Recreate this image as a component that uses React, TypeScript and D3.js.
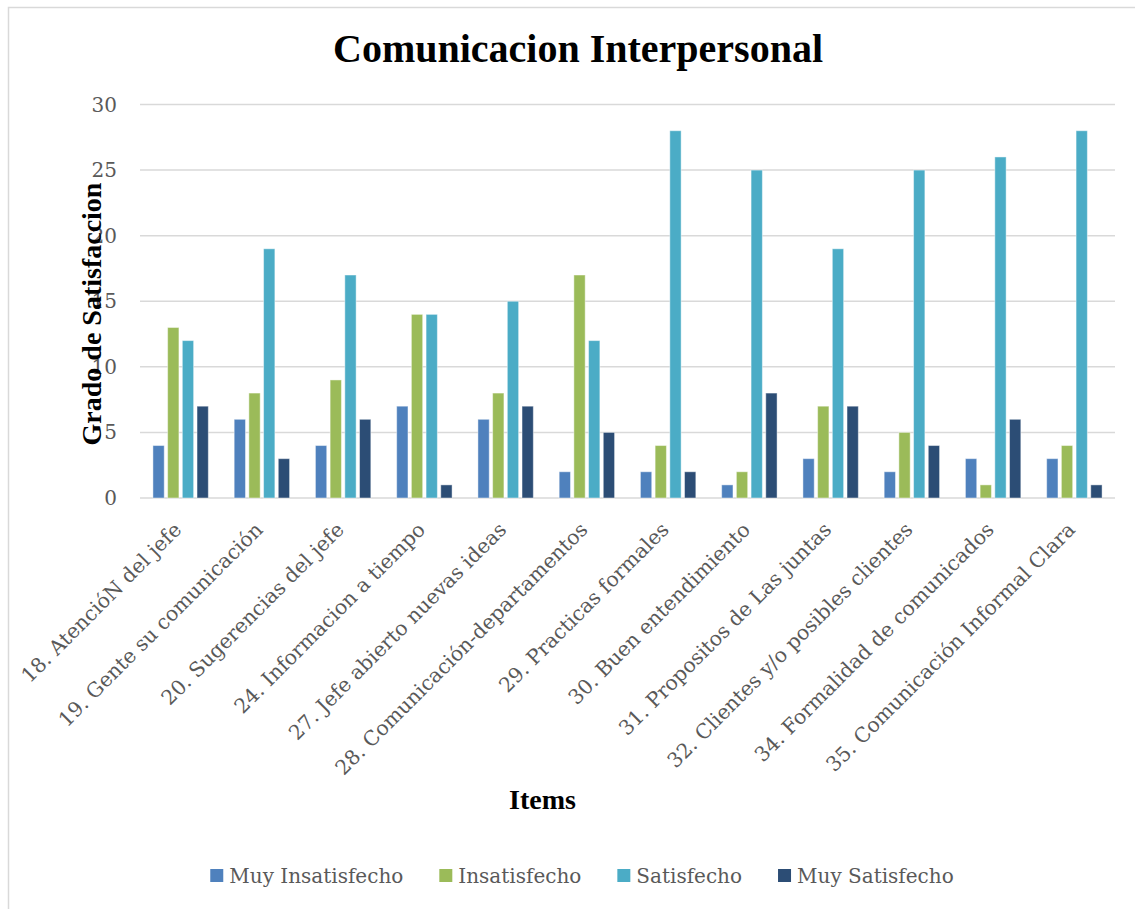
import React, { useEffect, useRef } from "react";
import * as d3 from "d3";

// Items surveyed (x categories)
const items: string[] = [
  "18. AtencióN del jefe",
  "19. Gente su comunicación",
  "20. Sugerencias del jefe",
  "24. Informacion a tiempo",
  "27. Jefe abierto nuevas ideas",
  "28. Comunicación-departamentos",
  "29. Practicas formales",
  "30. Buen entendimiento",
  "31. Propositos de Las juntas",
  "32. Clientes y/o posibles clientes",
  "34. Formalidad de comunicados",
  "35. Comunicación Informal Clara",
];

const seriesNames: string[] = ["Muy Insatisfecho", "Insatisfecho", "Satisfecho", "Muy Satisfecho"];
const seriesColors: string[] = ["#4f81bd", "#9bbb59", "#4bacc6", "#2c4d75"];

const muyInsatisfecho: number[] = [4, 6, 4, 7, 6, 2, 2, 1, 3, 2, 3, 3];
const insatisfecho: number[] = [13, 8, 9, 14, 8, 17, 4, 2, 7, 5, 1, 4];
const satisfecho: number[] = [12, 19, 17, 14, 15, 12, 28, 25, 19, 25, 26, 28];
const muySatisfecho: number[] = [7, 3, 6, 1, 7, 5, 2, 8, 7, 4, 6, 1];

const yTicks: number[] = [0, 5, 10, 15, 20, 25, 30];

const W = 1135;
const H = 909;
const SERIF = "'DejaVu Serif', serif";
const TITLE_FONT = "'Liberation Serif', 'Times New Roman', serif";
const TEXT_GRAY = "#595959";

export default function App() {
  const ref = useRef<SVGSVGElement | null>(null);

  useEffect(() => {
    const svg = d3.select(ref.current);
    svg.selectAll("*").remove();

    const values = [muyInsatisfecho, insatisfecho, satisfecho, muySatisfecho];
    const rows = items.map((item, i) => ({
      item,
      vals: seriesNames.map((s, k) => ({ s, k, v: values[k][i] })),
    }));

    const left = 140;
    const right = 1115;
    const top = 104.5;
    const bottom = 498;

    // chart frame
    svg
      .append("rect")
      .attr("x", 8.5)
      .attr("y", 7.5)
      .attr("width", W + 20)
      .attr("height", H + 20)
      .attr("fill", "#fff")
      .attr("stroke", "#d9d9d9")
      .attr("stroke-width", 1.5);

    const x0 = d3.scaleBand<string>().domain(items).range([left, right]).padding(0);
    const groupW = 55.4;
    const x1 = d3
      .scaleBand<string>()
      .domain(seriesNames)
      .range([0, groupW])
      .paddingInner(0.231)
      .paddingOuter(0);
    const y = d3.scaleLinear().domain([0, 30]).range([bottom, top]);

    // gridlines
    svg
      .append("g")
      .selectAll("line")
      .data(yTicks)
      .join("line")
      .attr("x1", left)
      .attr("x2", right)
      .attr("y1", (d) => y(d))
      .attr("y2", (d) => y(d))
      .attr("stroke", "#d9d9d9")
      .attr("stroke-width", 1.5);

    // y tick labels
    svg
      .append("g")
      .selectAll("text")
      .data(yTicks)
      .join("text")
      .attr("x", 117)
      .attr("y", (d) => y(d) + 7)
      .attr("text-anchor", "end")
      .attr("font-family", SERIF)
      .attr("font-size", 20)
      .attr("fill", TEXT_GRAY)
      .text((d) => String(d));

    // bars
    const offset = (x0.bandwidth() - groupW) / 2;
    svg
      .append("g")
      .selectAll("g")
      .data(rows)
      .join("g")
      .attr("transform", (d) => `translate(${(x0(d.item) as number) + offset},0)`)
      .selectAll("rect")
      .data((d) => d.vals)
      .join("rect")
      .attr("x", (d) => x1(d.s) as number)
      .attr("y", (d) => y(d.v))
      .attr("width", x1.bandwidth())
      .attr("height", (d) => y(0) - y(d.v))
      .attr("fill", (d) => seriesColors[d.k])
      .attr("stroke", "rgba(255,255,255,0.45)")
      .attr("stroke-width", 1);

    // x labels, rotated
    svg
      .append("g")
      .selectAll("text")
      .data(items)
      .join("text")
      .attr("transform", (d) => {
        const cx = (x0(d) as number) + x0.bandwidth() / 2;
        return `translate(${cx + 2},531) rotate(-45)`;
      })
      .attr("text-anchor", "end")
      .attr("font-family", SERIF)
      .attr("font-size", 20.3)
      .attr("fill", TEXT_GRAY)
      .text((d) => d);

    // title
    svg
      .append("text")
      .attr("x", 578)
      .attr("y", 62)
      .attr("text-anchor", "middle")
      .attr("font-family", TITLE_FONT)
      .attr("font-weight", "bold")
      .attr("font-size", 40)
      .attr("fill", "#000")
      .text("Comunicacion Interpersonal");

    // axis titles
    svg
      .append("text")
      .attr("x", 542.5)
      .attr("y", 809)
      .attr("text-anchor", "middle")
      .attr("font-family", TITLE_FONT)
      .attr("font-weight", "bold")
      .attr("font-size", 28)
      .attr("fill", "#000")
      .text("Items");

    svg
      .append("text")
      .attr("transform", "translate(101,314) rotate(-90)")
      .attr("text-anchor", "middle")
      .attr("font-family", TITLE_FONT)
      .attr("font-weight", "bold")
      .attr("font-size", 28)
      .attr("fill", "#000")
      .text("Grado de Satisfaccion");

    // legend
    const legend = svg.append("g");
    const entries = legend
      .selectAll("g")
      .data(seriesNames)
      .join("g");
    entries
      .append("rect")
      .attr("width", 13)
      .attr("height", 13)
      .attr("y", 869)
      .attr("fill", (_d, i) => seriesColors[i]);
    const labels = entries
      .append("text")
      .attr("x", 19)
      .attr("y", 883)
      .attr("font-family", SERIF)
      .attr("font-size", 20)
      .attr("fill", TEXT_GRAY)
      .text((d) => d);
    const widths: number[] = [];
    labels.each(function () {
      widths.push((this as SVGTextElement).getComputedTextLength());
    });
    const gap = 36;
    const itemW = widths.map((w) => 19 + w);
    const total = d3.sum(itemW) + gap * (itemW.length - 1);
    let cur = 582 - total / 2;
    entries.attr("transform", (_d, i) => {
      const t = `translate(${cur},0)`;
      cur += itemW[i] + gap;
      return t;
    });
  }, []);

  return (
    <svg
      ref={ref}
      width={W}
      height={H}
      style={{ position: "absolute", left: 0, top: 0, background: "#fff" }}
    />
  );
}
